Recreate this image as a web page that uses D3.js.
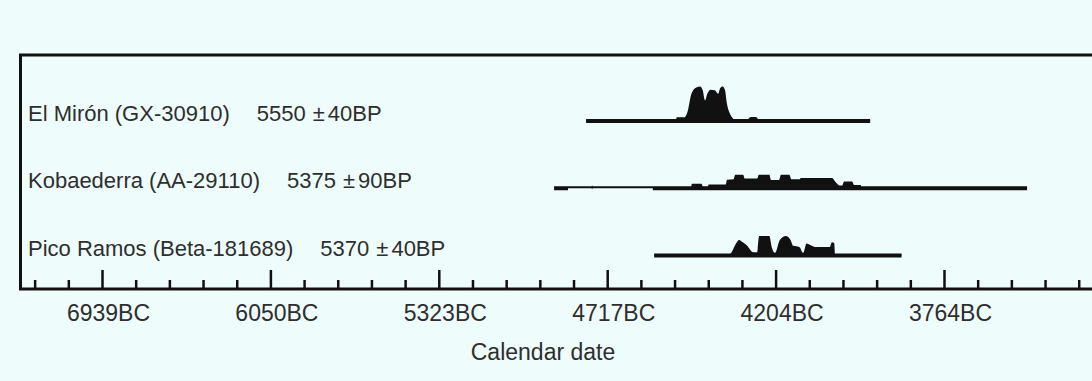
<!DOCTYPE html>
<html>
<head>
<meta charset="utf-8">
<script src="https://cdn.jsdelivr.net/npm/d3@7"></script>
<style>
  body { margin: 0; background: #effcfc; }
  svg { display: block; }
  text { font-family: 'Liberation Sans', Arial, sans-serif; fill: #2e2e2e; }
</style>
</head>
<body>
<svg width="1092" height="381"></svg>
<script>
// calendar axis, major ticks (years BC) and their labels
const majorYears = [6939, 6050, 5323, 4717, 4204, 3764];
const tickLabels = ['6939BC', '6050BC', '5323BC', '4717BC', '4204BC', '3764BC'];

// samples
const sites = ['El Mirón (GX-30910)', 'Kobaederra (AA-29110)', 'Pico Ramos (Beta-181689)'];
const bpDates = [5550, 5375, 5370];
const bpErrors = [40, 90, 40];

// full extent (thin line) and ranges (thick line), years BC
const spans = [[4793, 3957], [4908, 3547], [4574, 3875]];
const ranges = [
  [[4793, 3957]],
  [[4908, 4858], [4578, 3547]],
  [[4574, 3875]]
];

// probability distributions [year BC, relative probability]
const mironDensity = [
  [4508, 0], [4505, 0.12], [4482, 0.12], [4470, 0.36], [4462, 0.74], [4455, 0.89],
  [4444, 0.98], [4434, 1.0], [4426, 0.89], [4419, 0.6], [4412, 0.79], [4402, 0.91],
  [4389, 0.89], [4379, 0.79], [4373, 0.95], [4365, 1.0], [4358, 0.89], [4353, 0.55],
  [4343, 0.22], [4333, 0.08], [4326, 0], [4290, 0], [4285, 0.1], [4278, 0.13],
  [4264, 0.13], [4256, 0.05], [4250, 0]
];
const kobaederraDensity = [
  [4773, 0], [4771, 0.1], [4769, 0], [4462, 0], [4459, 0.14], [4430, 0.14],
  [4425, 0.04], [4411, 0.04], [4408, 0.12], [4356, 0.12], [4352, 0.26], [4332, 0.27],
  [4327, 0.40], [4303, 0.40], [4298, 0.29], [4260, 0.29], [4255, 0.40], [4223, 0.40],
  [4218, 0.25], [4195, 0.25], [4190, 0.40], [4168, 0.40], [4163, 0.27], [4142, 0.27],
  [4138, 0.31], [4056, 0.31], [4048, 0.20], [4036, 0.09], [4030, 0.09], [4025, 0.21],
  [4004, 0.21], [3999, 0.11], [3982, 0.11], [3979, 0]
];
const picoDensity = [
  [4347, 0], [4338, 0.11], [4325, 0.35], [4315, 0.46], [4305, 0.40], [4292, 0.31],
  [4272, 0.11], [4260, 0.11], [4257, 0.40], [4254, 0.57], [4223, 0.57], [4216, 0.26],
  [4206, 0.09], [4193, 0.46], [4177, 0.57], [4165, 0.46], [4158, 0.29], [4142, 0.26],
  [4132, 0.09], [4123, 0.36], [4112, 0.31], [4101, 0.26], [4062, 0.26], [4057, 0.39],
  [4051, 0.37], [4049, 0]
];
const densities = [mironDensity, kobaederraDensity, picoDensity];

const W = 1092, H = 381;
const boxLeft = 20.5, boxTop = 55, axisY = 289;
const svg = d3.select('svg');

// piecewise scale: major ticks are evenly spaced on the page
const x = d3.scaleLinear()
  .domain(majorYears)
  .range(majorYears.map((d, i) => 102 + i * 168.4));

const y = d3.scalePoint().domain(sites).range([121.5, 256]);
const h = d3.scaleLinear().domain([0, 1]).range([0, 35]);

// minor ticks: 4 between majors, extended past both ends
const minorYears = [];
d3.pairs(majorYears).forEach(([a, b]) => {
  for (let j = 1; j < 5; j++) minorYears.push(a + (b - a) * j / 5);
});
const [f0, f1] = majorYears, [l0, l1] = majorYears.slice(-2);
for (let j = 1; j <= 2; j++) minorYears.push(f0 - (f1 - f0) * j / 5);
for (let j = 1; j <= 4; j++) minorYears.push(l1 + (l1 - l0) * j / 5);

// frame
svg.append('path')
  .attr('d', `M${W},${boxTop}H${boxLeft}V${axisY}H${W}`)
  .attr('fill', 'none')
  .attr('stroke', '#111')
  .attr('stroke-width', 3);

const styleAxis = g => {
  g.select('.domain').remove();
  g.selectAll('.tick line').attr('stroke', '#111').attr('stroke-width', 2.5);
  g.attr('font-family', null).attr('font-size', null);
};

svg.append('g')
  .attr('transform', `translate(0,${axisY})`)
  .call(d3.axisBottom(x).tickValues(minorYears).tickSizeInner(-9).tickSizeOuter(0).tickFormat(''))
  .call(styleAxis);

svg.append('g')
  .attr('transform', `translate(0,${axisY})`)
  .call(d3.axisBottom(x).tickValues(majorYears).tickSizeInner(-19).tickSizeOuter(0)
    .tickPadding(16).tickFormat((d, i) => tickLabels[i]))
  .call(styleAxis)
  .call(g => g.selectAll('.tick text').attr('dx', 6).style('font-size', '23px').attr('fill', '#2e2e2e'));

svg.append('text')
  .attr('x', 543)
  .attr('y', 360)
  .attr('text-anchor', 'middle')
  .style('font-size', '23px')
  .text('Calendar date');

// rows
const area = d3.area()
  .x(d => x(d[0]))
  .curve(d3.curveMonotoneX);

sites.forEach((site, i) => {
  const base = y(site);
  const row = svg.append('g');

  row.append('line')
    .attr('x1', x(spans[i][0])).attr('x2', x(spans[i][1]))
    .attr('y1', base - 1.5).attr('y2', base - 1.5)
    .attr('stroke', '#111').attr('stroke-width', 2);

  row.selectAll('line.range')
    .data(ranges[i])
    .enter()
    .append('line')
    .attr('class', 'range')
    .attr('x1', d => x(d[0])).attr('x2', d => x(d[1]))
    .attr('y1', base).attr('y2', base)
    .attr('stroke', '#111').attr('stroke-width', 3);

  row.append('path')
    .datum(densities[i])
    .attr('d', area.y0(base).y1(d => base - h(d[1])))
    .attr('fill', '#111');

  const label = row.append('text')
    .attr('x', 28)
    .attr('y', base - 0.5)
    .style('font-size', '22px');
  label.append('tspan').text(site);
  label.append('tspan').attr('dx', 27).text(bpDates[i]);
  label.append('tspan').attr('dx', 7).text('±');
  label.append('tspan').attr('dx', 3).text(`${bpErrors[i]}BP`);
});
</script>
</body>
</html>
